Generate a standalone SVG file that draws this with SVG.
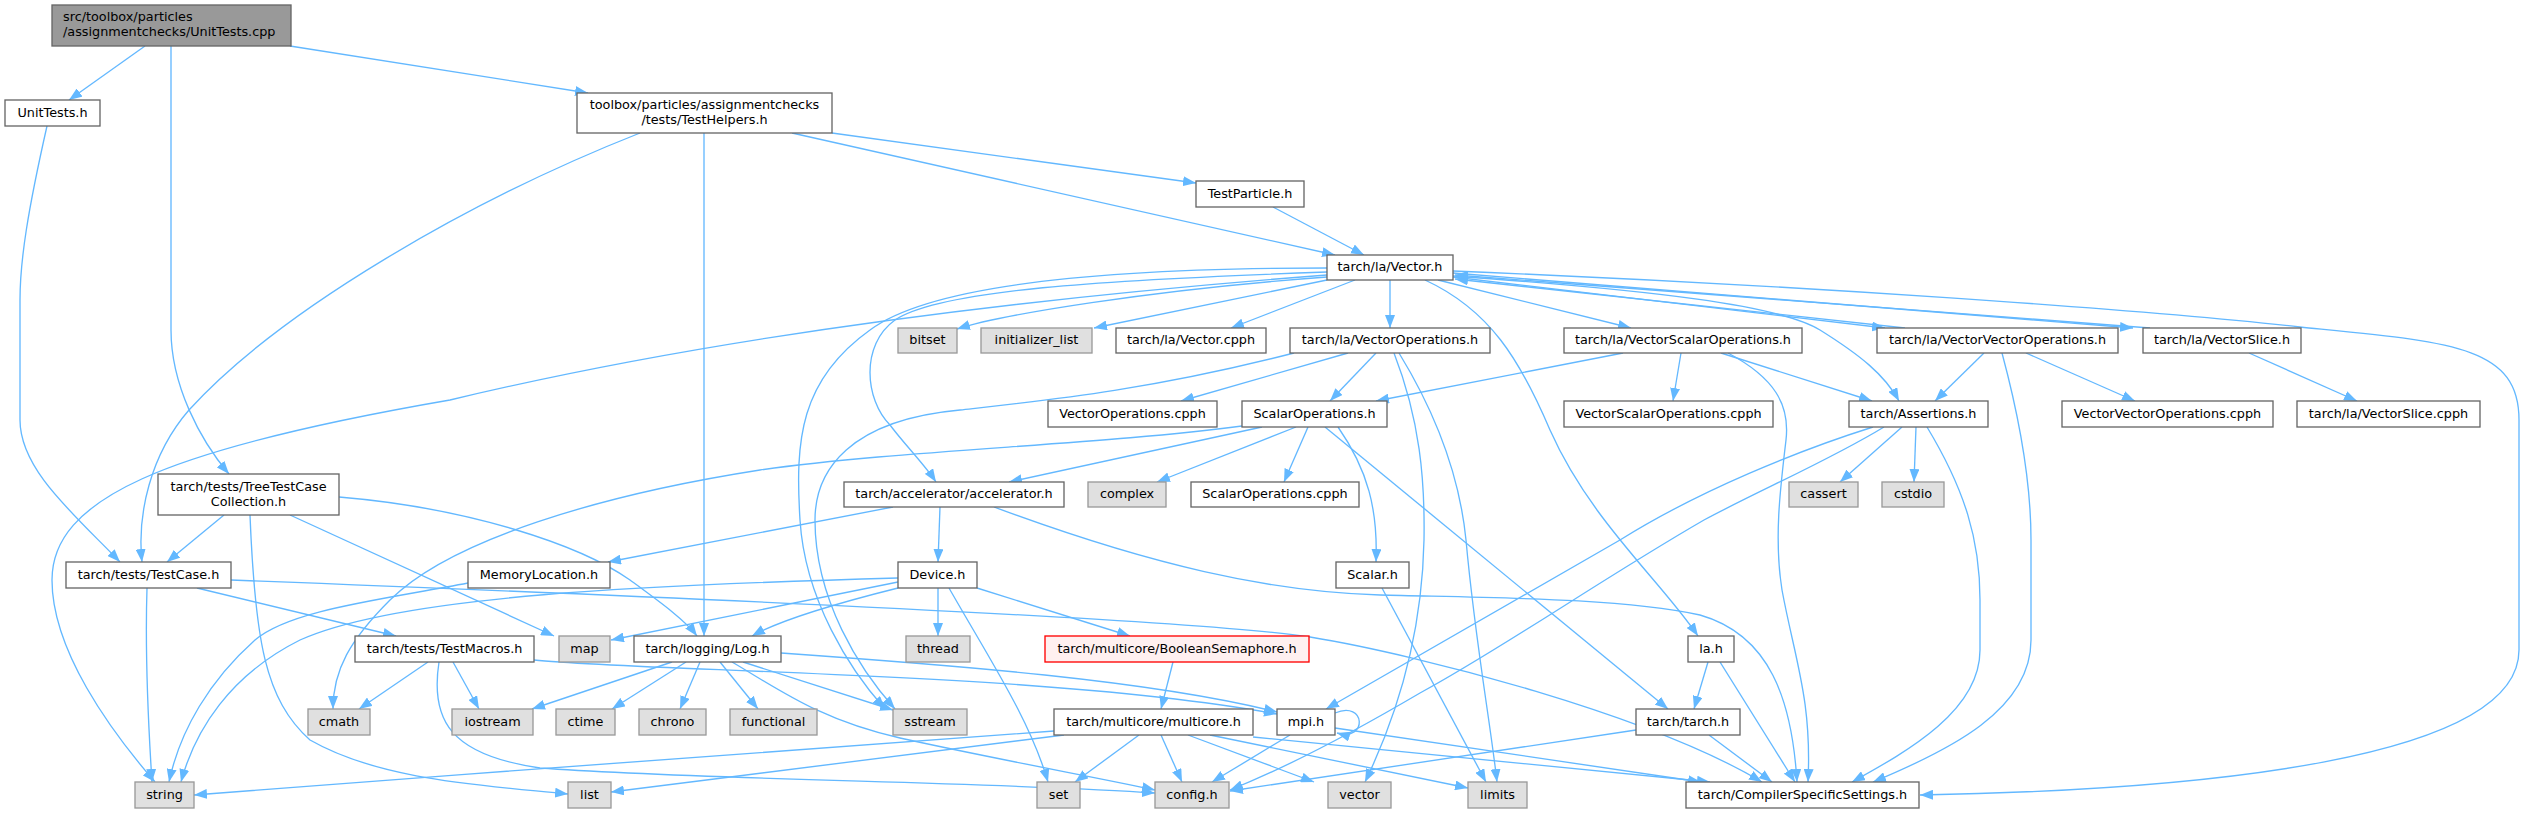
<svg xmlns="http://www.w3.org/2000/svg" width="2523" height="813" viewBox="0 0 2523 813">
<defs>
<style>
.node rect{stroke-width:1.33}
.n rect{fill:#fff;stroke:#666}
.x rect{fill:#e0e0e0;stroke:#999}
.m rect{fill:#999;stroke:#666}
.r rect{fill:#fff0f0;stroke:#f00}
text{font-family:"DejaVu Sans",sans-serif;font-size:12.8px;fill:#000;text-anchor:middle}
text.l{text-anchor:start}
.e path{fill:none;stroke:#63b8ff;stroke-width:1.33;marker-end:url(#a)}
</style>
<marker id="a" markerUnits="userSpaceOnUse" viewBox="0 0 13 10" refX="13" refY="5" markerWidth="13" markerHeight="10" orient="auto"><path d="M0,0L13,5L0,10z" fill="#63b8ff"/></marker>
</defs>
<rect width="2523" height="813" fill="#fff"/>
<g id="edges" class="e">
<path d="M145,46 L69,100"/>
<path d="M290,46 L588,93"/>
<path d="M171,46 L171,330 C171,385 200,440 229,474"/>
<path d="M47,126 C28,210 20,260 20,300 L20,420 C20,470 75,515 120,562"/>
<path d="M640,133 C470,200 280,310 189,410 C150,455 137,515 142,562"/>
<path d="M704,133 L704,636"/>
<path d="M832,133 L1196,183"/>
<path d="M792,133 L1335,255"/>
<path d="M1273,207 L1364,255"/>
<path d="M224,515 L167,562"/>
<path d="M250,515 C255,640 265,700 310,740 C380,780 480,785 568,794"/>
<path d="M290,515 L554,636"/>
<path d="M339,497 C470,508 580,545 630,580 C660,602 685,620 697,636"/>
<path d="M147,588 C145,650 148,720 152,782"/>
<path d="M197,588 L396,636"/>
<path d="M231,580 C700,598 1200,620 1310,637 C1420,655 1650,715 1762,782"/>
<path d="M468,583 C380,600 290,610 255,640 C210,680 180,730 169,782"/>
<path d="M893,507 L608,562"/>
<path d="M940,507 L938,562"/>
<path d="M994,507 C1150,565 1270,592 1380,595 C1500,598 1620,598 1700,615 C1770,635 1792,700 1797,782"/>
<path d="M1262,427 L1009,482"/>
<path d="M1242,426 C1100,445 900,450 760,470 C600,495 450,540 390,600 C350,640 333,670 333,709"/>
<path d="M1296,427 L1157,482"/>
<path d="M1308,427 L1284,482"/>
<path d="M1338,427 C1368,470 1378,510 1376,562"/>
<path d="M1325,427 L1668,709"/>
<path d="M1382,588 L1486,782"/>
<path d="M1348,353 L1181,401"/>
<path d="M1376,353 L1330,401"/>
<path d="M1294,353 C1150,390 1050,400 960,410 C850,420 815,470 815,520 C815,600 860,670 895,709"/>
<path d="M1327,268 C1100,268 930,285 870,330 C800,380 795,440 800,520 C805,600 850,670 885,709"/>
<path d="M1327,272 C1100,280 940,290 895,320 C860,345 865,400 890,425 C905,445 925,465 936,482"/>
<path d="M1327,275 C1000,300 700,340 450,400 C160,450 52,500 52,580 C52,650 110,730 155,782"/>
<path d="M1327,277 C1150,290 1000,315 957,329"/>
<path d="M1327,280 L1094,328"/>
<path d="M1355,280 L1231,328"/>
<path d="M1390,280 L1390,328"/>
<path d="M1438,280 L1631,328"/>
<path d="M1425,280 C1490,310 1520,360 1550,430 C1590,520 1660,580 1698,636"/>
<path d="M1453,276 C1650,290 1780,305 1820,330 C1860,355 1885,375 1899,401"/>
<path d="M1453,277 L1885,328"/>
<path d="M1905,328 L1455,279"/>
<path d="M1453,273 L2133,328"/>
<path d="M2150,328 L1455,275"/>
<path d="M1453,271 C1800,285 2150,310 2300,327 C2450,342 2519,345 2519,420 L2519,650 C2519,760 2200,790 1920,795"/>
<path d="M1623,353 L1376,401"/>
<path d="M1681,353 L1673,401"/>
<path d="M1721,353 L1872,401"/>
<path d="M1728,353 C1775,378 1790,405 1786,440 C1780,490 1774,540 1782,590 C1795,660 1812,700 1808,782"/>
<path d="M1984,353 L1935,401"/>
<path d="M2026,353 L2135,401"/>
<path d="M2002,353 C2020,420 2031,480 2031,540 L2031,640 C2031,710 1950,750 1873,782"/>
<path d="M2249,353 L2357,401"/>
<path d="M1902,427 L1840,482"/>
<path d="M1916,427 L1914,482"/>
<path d="M1927,427 C1965,490 1980,540 1980,600 L1980,650 C1980,710 1910,750 1852,782"/>
<path d="M1873,427 C1800,450 1700,490 1620,540 L1326,709"/>
<path d="M1884,427 C1830,460 1760,490 1704,520 C1600,580 1500,650 1420,693 C1340,740 1280,770 1230,790"/>
<path d="M1708,662 L1694,709"/>
<path d="M1720,662 L1795,782"/>
<path d="M1636,730 L1230,791"/>
<path d="M1709,735 L1772,782"/>
<path d="M898,582 L611,640"/>
<path d="M898,588 C830,605 780,620 752,636"/>
<path d="M898,578 C650,585 400,595 300,640 C230,675 195,730 181,782"/>
<path d="M938,588 L938,636"/>
<path d="M949,588 C990,660 1030,720 1048,782"/>
<path d="M977,588 L1130,636"/>
<path d="M1173,662 L1161,709"/>
<path d="M1054,731 C900,745 500,770 194,795"/>
<path d="M1064,735 L611,792"/>
<path d="M1139,735 L1075,782"/>
<path d="M1161,735 L1182,782"/>
<path d="M1188,735 L1314,782"/>
<path d="M1210,735 L1468,788"/>
<path d="M1253,737 L1710,782"/>
<path d="M1290,735 L1212,782"/>
<path d="M1335,713 C1366,700 1368,742 1337,733"/>
<path d="M1335,728 L1701,782"/>
<path d="M781,653 C950,665 1150,680 1277,712"/>
<path d="M534,660 C650,672 1050,672 1277,714"/>
<path d="M672,662 L532,709"/>
<path d="M686,662 L612,709"/>
<path d="M700,662 L680,709"/>
<path d="M720,662 L758,709"/>
<path d="M743,662 L893,710"/>
<path d="M732,662 C780,690 820,720 900,738 C1000,760 1100,778 1155,790"/>
<path d="M428,662 L359,709"/>
<path d="M453,662 L479,709"/>
<path d="M439,662 C430,720 450,755 540,768 C700,780 1000,782 1155,793"/>
<path d="M1394,353 C1420,420 1425,480 1424,540 C1422,640 1395,720 1365,782"/>
<path d="M1399,353 C1440,420 1460,480 1466,540 C1475,640 1490,720 1497,782"/>
</g>
<g id="n0" class="node m"><rect x="52" y="5" width="239" height="41"/><text class="l" x="63" y="21">src/toolbox/particles</text><text class="l" x="63" y="36">/assignmentchecks/UnitTests.cpp</text></g>
<g id="n1" class="node n"><rect x="5" y="100" width="95" height="26"/><text x="52.5" y="116.8">UnitTests.h</text></g>
<g id="n2" class="node n"><rect x="577" y="93" width="255" height="40"/><text x="704.5" y="109.3">toolbox/particles/assignmentchecks</text><text x="704.5" y="124.3">/tests/TestHelpers.h</text></g>
<g id="n3" class="node n"><rect x="1196" y="181" width="108" height="26"/><text x="1250" y="197.8">TestParticle.h</text></g>
<g id="n4" class="node n"><rect x="1327" y="255" width="126" height="25"/><text x="1390" y="271.3">tarch/la/Vector.h</text></g>
<g id="n5" class="node x"><rect x="898" y="328" width="59" height="25"/><text x="927.5" y="344.3">bitset</text></g>
<g id="n6" class="node x"><rect x="981" y="328" width="111" height="25"/><text x="1036.5" y="344.3">initializer_list</text></g>
<g id="n7" class="node n"><rect x="1116" y="328" width="150" height="25"/><text x="1191" y="344.3">tarch/la/Vector.cpph</text></g>
<g id="n8" class="node n"><rect x="1290" y="328" width="200" height="25"/><text x="1390" y="344.3">tarch/la/VectorOperations.h</text></g>
<g id="n9" class="node n"><rect x="1564" y="328" width="238" height="25"/><text x="1683" y="344.3">tarch/la/VectorScalarOperations.h</text></g>
<g id="n10" class="node n"><rect x="1877" y="328" width="241" height="25"/><text x="1997.5" y="344.3">tarch/la/VectorVectorOperations.h</text></g>
<g id="n11" class="node n"><rect x="2143" y="328" width="158" height="25"/><text x="2222" y="344.3">tarch/la/VectorSlice.h</text></g>
<g id="n12" class="node n"><rect x="1048" y="401" width="169" height="26"/><text x="1132.5" y="417.8">VectorOperations.cpph</text></g>
<g id="n13" class="node n"><rect x="1242" y="401" width="145" height="26"/><text x="1314.5" y="417.8">ScalarOperations.h</text></g>
<g id="n14" class="node n"><rect x="1564" y="401" width="209" height="26"/><text x="1668.5" y="417.8">VectorScalarOperations.cpph</text></g>
<g id="n15" class="node n"><rect x="1849" y="401" width="139" height="26"/><text x="1918.5" y="417.8">tarch/Assertions.h</text></g>
<g id="n16" class="node n"><rect x="2062" y="401" width="211" height="26"/><text x="2167.5" y="417.8">VectorVectorOperations.cpph</text></g>
<g id="n17" class="node n"><rect x="2297" y="401" width="183" height="26"/><text x="2388.5" y="417.8">tarch/la/VectorSlice.cpph</text></g>
<g id="n18" class="node n"><rect x="158" y="474" width="181" height="41"/><text x="248.5" y="490.8">tarch/tests/TreeTestCase</text><text x="248.5" y="505.8">Collection.h</text></g>
<g id="n19" class="node n"><rect x="844" y="482" width="220" height="25"/><text x="954" y="498.3">tarch/accelerator/accelerator.h</text></g>
<g id="n20" class="node x"><rect x="1088" y="482" width="78" height="25"/><text x="1127" y="498.3">complex</text></g>
<g id="n21" class="node n"><rect x="1191" y="482" width="168" height="25"/><text x="1275" y="498.3">ScalarOperations.cpph</text></g>
<g id="n22" class="node x"><rect x="1789" y="482" width="69" height="25"/><text x="1823.5" y="498.3">cassert</text></g>
<g id="n23" class="node x"><rect x="1882" y="482" width="62" height="25"/><text x="1913" y="498.3">cstdio</text></g>
<g id="n24" class="node n"><rect x="66" y="562" width="165" height="26"/><text x="148.5" y="578.8">tarch/tests/TestCase.h</text></g>
<g id="n25" class="node n"><rect x="468" y="562" width="142" height="26"/><text x="539" y="578.8">MemoryLocation.h</text></g>
<g id="n26" class="node n"><rect x="898" y="562" width="79" height="26"/><text x="937.5" y="578.8">Device.h</text></g>
<g id="n27" class="node n"><rect x="1336" y="562" width="73" height="26"/><text x="1372.5" y="578.8">Scalar.h</text></g>
<g id="n28" class="node n"><rect x="355" y="636" width="179" height="26"/><text x="444.5" y="652.8">tarch/tests/TestMacros.h</text></g>
<g id="n29" class="node x"><rect x="559" y="636" width="51" height="26"/><text x="584.5" y="652.8">map</text></g>
<g id="n30" class="node n"><rect x="634" y="636" width="147" height="26"/><text x="707.5" y="652.8">tarch/logging/Log.h</text></g>
<g id="n31" class="node x"><rect x="906" y="636" width="64" height="26"/><text x="938" y="652.8">thread</text></g>
<g id="n32" class="node r"><rect x="1045" y="636" width="264" height="26"/><text x="1177" y="652.8">tarch/multicore/BooleanSemaphore.h</text></g>
<g id="n33" class="node n"><rect x="1688" y="636" width="46" height="26"/><text x="1711" y="652.8">la.h</text></g>
<g id="n34" class="node x"><rect x="308" y="709" width="62" height="26"/><text x="339" y="725.8">cmath</text></g>
<g id="n35" class="node x"><rect x="452" y="709" width="81" height="26"/><text x="492.5" y="725.8">iostream</text></g>
<g id="n36" class="node x"><rect x="556" y="709" width="59" height="26"/><text x="585.5" y="725.8">ctime</text></g>
<g id="n37" class="node x"><rect x="639" y="709" width="67" height="26"/><text x="672.5" y="725.8">chrono</text></g>
<g id="n38" class="node x"><rect x="730" y="709" width="87" height="26"/><text x="773.5" y="725.8">functional</text></g>
<g id="n39" class="node x"><rect x="893" y="709" width="74" height="26"/><text x="930" y="725.8">sstream</text></g>
<g id="n40" class="node n"><rect x="1054" y="709" width="199" height="26"/><text x="1153.5" y="725.8">tarch/multicore/multicore.h</text></g>
<g id="n41" class="node n"><rect x="1277" y="709" width="58" height="26"/><text x="1306" y="725.8">mpi.h</text></g>
<g id="n42" class="node n"><rect x="1636" y="709" width="104" height="26"/><text x="1688" y="725.8">tarch/tarch.h</text></g>
<g id="n43" class="node x"><rect x="135" y="782" width="59" height="26"/><text x="164.5" y="798.8">string</text></g>
<g id="n44" class="node x"><rect x="568" y="782" width="43" height="26"/><text x="589.5" y="798.8">list</text></g>
<g id="n45" class="node x"><rect x="1037" y="782" width="43" height="26"/><text x="1058.5" y="798.8">set</text></g>
<g id="n46" class="node x"><rect x="1155" y="782" width="74" height="26"/><text x="1192" y="798.8">config.h</text></g>
<g id="n47" class="node x"><rect x="1328" y="782" width="63" height="26"/><text x="1359.5" y="798.8">vector</text></g>
<g id="n48" class="node x"><rect x="1468" y="782" width="59" height="26"/><text x="1497.5" y="798.8">limits</text></g>
<g id="n49" class="node n"><rect x="1686" y="782" width="233" height="26"/><text x="1802.5" y="798.8">tarch/CompilerSpecificSettings.h</text></g>
</svg>
